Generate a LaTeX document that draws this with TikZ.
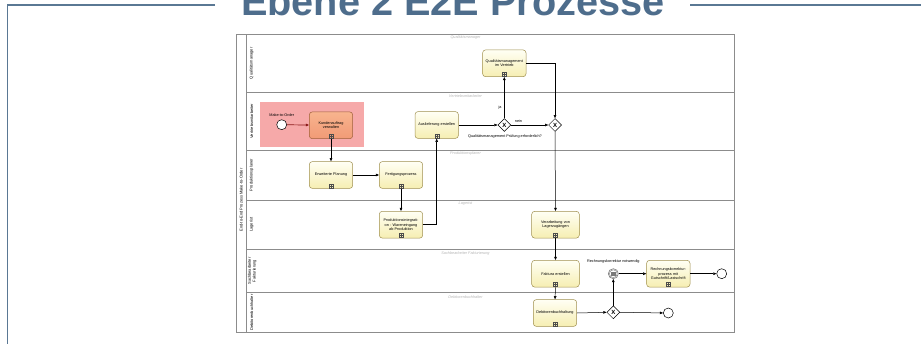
\documentclass[tikz,border=0pt]{standalone}
\usepackage{fontspec}
\setmainfont{Liberation Sans}
\usetikzlibrary{arrows.meta,shapes.geometric,calc}
\definecolor{framecol}{HTML}{5A7894}
\definecolor{titlecol}{HTML}{4E6D8C}
\definecolor{poolline}{HTML}{8C8C8C}
\definecolor{taskline}{HTML}{A09050}
\definecolor{tasktop}{HTML}{FFFFF4}
\definecolor{taskbottom}{HTML}{F6EEB2}
\definecolor{hottop}{HTML}{F8B48E}
\definecolor{hotbottom}{HTML}{F19A76}
\definecolor{hotline}{HTML}{A0603A}
\definecolor{highlight}{HTML}{F6A9A9}
\definecolor{flowred}{HTML}{8B1A1A}
\definecolor{lanetag}{HTML}{B4B4B4}
\definecolor{eventgray}{HTML}{7A7A7A}
\begin{document}
\begin{tikzpicture}[x=1pt,y=-1pt,
  tasktext/.style={font=\fontsize{3.8}{4.4}\selectfont},
  task/.style={rectangle, rounded corners=3pt, draw=taskline, line width=0.5pt,
    top color=tasktop, bottom color=taskbottom, minimum width=43.4pt,
    minimum height=26.8pt, text width=41pt, align=center, inner sep=0pt, tasktext},
  hottask/.style={task, draw=hotline, top color=hottop, bottom color=hotbottom},
  submark/.style={draw=black!70, line width=0.3pt, minimum size=4pt, inner sep=0pt,
    path picture={\draw[black!70, line width=0.3pt]
      (path picture bounding box.north) -- (path picture bounding box.south)
      (path picture bounding box.west) -- (path picture bounding box.east);}},
  gw/.style={diamond, draw, fill=white, line width=0.5pt, minimum size=13pt,
    inner sep=0pt, aspect=1, font=\fontsize{6}{6}\bfseries\selectfont},
  evt/.style={circle, draw, line width=0.5pt, minimum size=10pt, inner sep=0pt, fill=white},
  flow/.style={draw, line width=0.5pt, -{Triangle[length=3.2pt,width=2.6pt]}},
  startflow/.style={flow, draw=flowred, line width=0.7pt},
  lanename/.style={rotate=90, font=\fontsize{4}{4.6}\selectfont, align=center, inner sep=0pt},
  lanetagstyle/.style={font=\fontsize{3.8}{4.4}\itshape\selectfont, text=lanetag, inner sep=0pt},
  note/.style={font=\fontsize{3.8}{4.4}\selectfont, inner sep=0pt},
  poolrule/.style={draw=poolline, line width=0.6pt}
]
\useasboundingbox (0,0) rectangle (921,343);

% heading and outer frame
\node[anchor=base, font=\fontsize{39.7}{40}\bfseries\selectfont, text=titlecol, inner sep=0pt]
  (title) at (453,15) {Ebene 2 E2E Prozesse};
\draw[framecol, line width=1.8pt] (215,4.8) -- (7.5,4.8) -- (7.5,350);
\draw[framecol, line width=1.8pt] (690,4.8) -- (930,4.8);

% pool and lanes
\draw[poolrule] (236.7,34.3) rectangle (734.3,332.3);
\draw[poolrule] (246.7,34.3) -- (246.7,332.3);
\foreach \yy in {92.3,150,200,249.3,292.7}
  \draw[poolrule] (246.7,\yy) -- (734.3,\yy);

\node[lanename] (pool) at (241.2,200) {End-to-End Prozess Make-to-Order};
\node[lanename] (l1) at (251.7,63.3) {Qualitätsmanager};
\node[lanename] (l2) at (251.7,121.2) {Vertriebsmitarbeiter};
\node[lanename] (l3) at (251.7,175) {Produktionsplaner};
\node[lanename] (l4) at (251.7,224.7) {Lagerist};
\node[lanename] (l5) at (252.2,271) {Sachbearbeiter\\Fakturierung};
\node[lanename] (l6) at (251.7,312.5) {Debitorenbuchhalter};

\node[lanetagstyle] (t1) at (465.5,37.3) {Qualitätsmanager};
\node[lanetagstyle] (t2) at (465.5,95.7) {Vertriebsmitarbeiter};
\node[lanetagstyle] (t3) at (465.5,154) {Produktionsplaner};
\node[lanetagstyle] (t4) at (465.5,203.3) {Lagerist};
\node[lanetagstyle] (t5) at (465.5,253.3) {Sachbearbeiter Fakturierung};
\node[lanetagstyle] (t6) at (465.5,296.7) {Debitorenbuchhalter};

% highlighted entry area
\fill[highlight] (260,101.7) rectangle (364,147.3);

% events
\node[evt] (start) at (281.7,124.7) {};
\node[note, anchor=south] (startlbl) at (281.7,117) {Make-to-Order};

% tasks
\node[task] (qmv) at (504.3,63.3) {Qualitätsmanagement\\im Vertrieb\\[3pt]};
\node[hottask] (kav) at (331,125.3) {Kundenauftrag\\verwalten\\[3pt]};
\node[task] (ausl) at (436.7,125) {Auslieferung erstellen\\[3pt]};
\node[task] (erw) at (331,175) {Erweiterte Planung\\[3pt]};
\node[task] (fert) at (401,175) {Fertigungsprozess\\[3pt]};
\node[task] (prod) at (401,224.7) {Produktionsintegrati-\\on - Wareneingang\\ab Produktion\\[2pt]};
\node[task, minimum width=47.6pt, text width=45pt] (verl) at (555.5,224.7) {Verarbeitung von\\Lagerzugängen\\[3pt]};
\node[task, minimum width=47.6pt, text width=45pt] (fakt) at (555.5,273.7) {Faktura erstellen\\[3pt]};
\node[task] (debi) at (555,313) {Debitorenbuchhaltung\\[3pt]};
\node[task] (rkp) at (668.3,273.7) {Rechnungskorrektur-\\prozess mit\\Gutschrift/Lastschrift\\[2pt]};

\foreach \n in {qmv,kav,ausl,erw,fert,prod,verl,fakt,debi,rkp}
  \node[submark] (\n-mark) at ([yshift=2.8pt]\n.south) {};

% gateways
\node[gw] (gw1) at (504.3,125) {X};
\node[gw] (gw2) at (555,125) {X};
\node[gw] (gw3) at (613.3,312.3) {X};
\node[note, anchor=north] (gw1lbl) at (505,134.6) {Qualitätsmanagement Prüfung erforderlich?};

% end events
\node[evt] (end1) at (668.3,313) {};
\node[evt] (end2) at (721.7,273.7) {};

% intermediate condition event
\node[evt, draw=eventgray, line width=0.6pt] (iev) at (613.3,273.7) {};
\draw[eventgray, line width=0.4pt] (iev.center) circle[radius=3.9pt];
\draw[eventgray, line width=0.3pt] ($(iev.center)+(-2,-1.6)$) rectangle ($(iev.center)+(2,1.6)$);
\foreach \dy in {-0.6,0.6}
  \draw[eventgray, line width=0.25pt] ($(iev.center)+(-1.4,\dy)$) -- ($(iev.center)+(1.4,\dy)$);
\node[note, anchor=south] (ievlbl) at (613.3,263.5) {Rechnungskorrektur notwendig};

% sequence flows
\draw[startflow] (start) -- (kav);
\draw[flow] (kav.south) -- (erw.north);
\draw[flow] (erw) -- (fert);
\draw[flow] (fert.south) -- (prod.north);
\draw[flow] (prod.east) -| (ausl.south);
\draw[flow] (ausl) -- (gw1);
\draw[flow] (gw1.north) -- node[note, pos=0.27, left=2.5pt] (ja) {ja} (qmv.south);
\draw[flow] (gw1) -- node[note, pos=0.2, above=2.2pt] (nein) {nein} (gw2);
\draw[flow] (qmv.east) -| (gw2.north);
\draw[flow] (gw2.south) -- (verl.north);
\draw[flow] (verl.south) -- (fakt.north);
\draw[flow] (fakt.south) -- (debi.north);
\draw[flow] (debi.east) -- (gw3.west);
\draw[flow] (gw3.east) -- (end1);
\draw[flow] (gw3.north) -- (iev.south);
\draw[flow] (iev.east) -- (rkp.west);
\draw[flow] (rkp.east) -- (end2);
\end{tikzpicture}
\end{document}
